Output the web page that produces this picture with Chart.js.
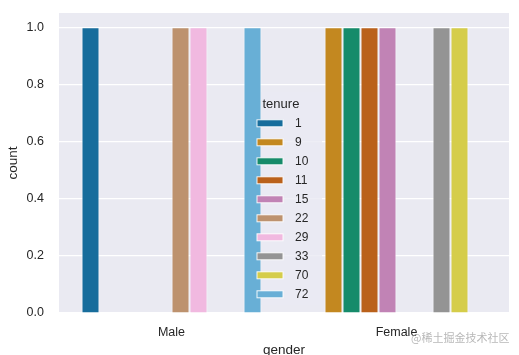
<!DOCTYPE html>
<html>
<head>
<meta charset="utf-8">
<script src="https://cdn.jsdelivr.net/npm/chart.js@4"></script>
<style>
html,body{margin:0;padding:0;background:#fff;}
#wrap{width:519px;height:355px;position:relative;}
</style>
</head>
<body>
<div id="wrap"><canvas id="c"></canvas></div>
<script>
const categories = ["Male", "Female"];
const tenureLevels = ["1", "9", "10", "11", "15", "22", "29", "33", "70", "72"];
// counts per tenure level: [Male, Female]
const count_1  = [1, null];
const count_9  = [null, 1];
const count_10 = [null, 1];
const count_11 = [null, 1];
const count_15 = [null, 1];
const count_22 = [1, null];
const count_29 = [1, null];
const count_33 = [null, 1];
const count_70 = [null, 1];
const count_72 = [1, null];
const yTicks = [0, 0.2, 0.4, 0.6, 0.8, 1.0];

const seriesValues = [count_1, count_9, count_10, count_11, count_15, count_22, count_29, count_33, count_70, count_72];
const palette = ["#176d9c", "#c38820", "#168b6a", "#ba611b", "#c183b5", "#bd926e", "#f1b9e0", "#949494", "#d5cd4a", "#68afd6"];

const FONT = "'Liberation Sans', Arial, sans-serif";
const TXT = "#262626";

const bgPlugin = {
  id: 'bg',
  beforeDraw(chart) {
    const {ctx, chartArea: a} = chart;
    ctx.save();
    ctx.fillStyle = '#eaeaf2';
    ctx.fillRect(a.left, a.top, a.right - a.left, a.bottom - a.top);
    ctx.restore();
  }
};

const legendPlugin = {
  id: 'innerLegend',
  afterDraw(chart) {
    const ctx = chart.ctx;
    ctx.save();
    ctx.fillStyle = 'rgba(234,234,242,0.8)';
    ctx.fillRect(261, 92, 61, 213);
    ctx.fillStyle = TXT;
    ctx.font = "13px " + FONT;
    ctx.textBaseline = 'middle';
    ctx.textAlign = 'left';
    ctx.fillText('tenure', 262.5, 104);
    ctx.font = "12px " + FONT;
    chart.data.datasets.forEach((ds, i) => {
      const cy = 123.3 + i * 19;
      ctx.fillStyle = ds.backgroundColor;
      ctx.fillRect(257, cy - 3.5, 26, 7);
      ctx.strokeStyle = 'rgba(255,255,255,0.9)';
      ctx.lineWidth = 1;
      ctx.strokeRect(257, cy - 3.5, 26, 7);
      ctx.fillStyle = TXT;
      ctx.fillText(ds.label, 295, cy + 0.5);
    });
    // watermark
    ctx.font = "11px 'Noto Sans CJK SC', sans-serif";
    ctx.fillStyle = 'rgba(160,160,160,0.75)';
    ctx.textAlign = 'left';
    ctx.fillText('@稀土掘金技术社区', 411, 338);
    ctx.restore();
  }
};

const datasets = tenureLevels.map((t, i) => ({
  label: t,
  data: seriesValues[i],
  backgroundColor: palette[i],
  borderColor: 'rgba(255,255,255,0.7)',
  borderWidth: 1,
  categoryPercentage: 0.8,
  barPercentage: 1.0
}));

new Chart(document.getElementById('c'), {
  type: 'bar',
  data: { labels: categories, datasets },
  plugins: [bgPlugin, legendPlugin],
  options: {
    responsive: true,
    maintainAspectRatio: false,
    animation: false,
    layout: { padding: { top: 13, right: 10, left: 0, bottom: 0 } },
    plugins: { legend: { display: false }, tooltip: { enabled: false } },
    scales: {
      x: {
        grid: { display: false, drawTicks: false },
        border: { display: false },
        ticks: { color: TXT, font: { family: FONT, size: 12.5 }, padding: 12 },
        title: { display: true, text: 'gender', color: TXT, font: { family: FONT, size: 13.5 }, padding: { top: 0, bottom: -3 } },
        afterFit(s) { s.height = 42; s.paddingLeft = 0; s.paddingRight = 0; }
      },
      y: {
        min: 0, max: 1.05,
        grid: { color: '#ffffff', lineWidth: 1.2, drawTicks: false },
        border: { display: false },
        afterBuildTicks(s) { s.ticks = yTicks.map(v => ({ value: v })); },
        ticks: { color: TXT, font: { family: FONT, size: 12.5 }, padding: 15, callback: v => Number(v).toFixed(1) },
        title: { display: true, text: 'count', color: TXT, font: { family: FONT, size: 13.5 }, padding: { top: 5, bottom: 0 } },
        afterFit(s) { s.width = 59; s.paddingTop = 0; s.paddingBottom = 0; }
      }
    }
  }
});
</script>
</body>
</html>
